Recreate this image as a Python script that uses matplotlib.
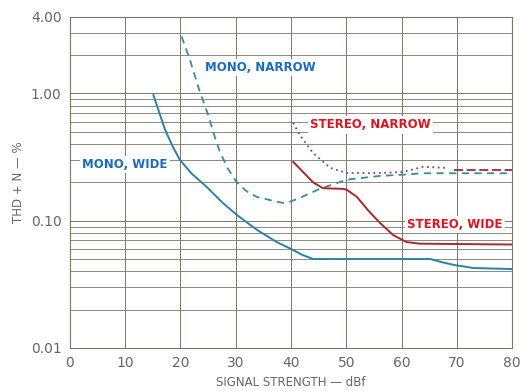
import matplotlib
matplotlib.use("Agg")
import matplotlib.pyplot as plt
from matplotlib.ticker import FixedLocator, NullFormatter

# ---- data (signal strength dBf, THD+N %) ----
mono_wide_x = [15.1, 16.2, 17.2, 18.5, 19.9, 22.0, 24.7, 27.5, 30.2, 33.8, 37.4, 40.0, 42.0, 44.0,
               50.0, 60.0, 65.2, 67.5, 69.4, 73.0, 80.0]
mono_wide_y = [0.97, 0.70, 0.52, 0.39, 0.30, 0.235, 0.185, 0.14, 0.111, 0.085, 0.068, 0.060, 0.054, 0.050,
               0.050, 0.050, 0.050, 0.047, 0.045, 0.0425, 0.0417]

mono_narrow_x = [20.2, 21.7, 23.5, 25.0, 26.2, 27.1, 28.5, 30.2, 32.0, 33.8, 37.4, 39.0, 41.6, 45.2, 50.1,
                 56.1, 60.3, 64.0, 70.0, 80.0]
mono_narrow_y = [2.8, 1.84, 1.03, 0.68, 0.456, 0.35, 0.26, 0.20, 0.17, 0.154, 0.141, 0.137, 0.151, 0.178, 0.21,
                 0.225, 0.23, 0.236, 0.236, 0.236]

stereo_narrow_x = [40.4, 41.6, 44.0, 47.1, 50.1, 56.1, 60.3, 63.9, 68.2]
stereo_narrow_y = [0.588, 0.47, 0.34, 0.26, 0.237, 0.237, 0.242, 0.265, 0.26]

stereo_narrow_ext_x = [69.5, 80.0]
stereo_narrow_ext_y = [0.25, 0.25]

stereo_wide_x = [40.4, 44.0, 45.8, 49.4, 50.1, 51.9, 54.0, 56.1, 58.5, 60.9, 63.3, 80.0]
stereo_wide_y = [0.29, 0.20, 0.18, 0.178, 0.175, 0.154, 0.12, 0.096, 0.077, 0.068, 0.066, 0.065]

x_ticks = [0, 10, 20, 30, 40, 50, 60, 70, 80]
y_ticks = [0.01, 0.10, 1.00, 4.00]
y_tick_labels = ["0.01", "0.10", "1.00", "4.00"]

fig = plt.figure(figsize=(5.22, 3.91), dpi=100)
ax = fig.add_axes([0.134, 0.110, 0.847, 0.847])

grid_col = "#77776a"
blue = "#2a82a8"
red = "#a8282c"
text_col = "#666666"

ax.set_xlim(0, 80)
ax.set_yscale("log")
ax.set_ylim(0.01, 4.0)

# grid
minor = [m * 10.0 ** e for e in (-2, -1, 0) for m in range(2, 10)]
minor = [v for v in minor if v < 4.0]
ax.yaxis.set_minor_locator(FixedLocator(minor))
ax.yaxis.set_minor_formatter(NullFormatter())
ax.set_yticks(y_ticks)
ax.set_yticklabels(y_tick_labels)
ax.set_xticks(x_ticks)
ax.grid(True, which="major", color=grid_col, lw=0.7)
ax.grid(True, which="minor", axis="y", color=grid_col, lw=0.6)
ax.tick_params(which="both", length=0, labelsize=10, colors=text_col, pad=6)
for s in ax.spines.values():
    s.set_color(grid_col)
    s.set_linewidth(0.8)

# curves
ax.plot(mono_wide_x, mono_wide_y, color=blue, lw=1.4)
ax.plot(mono_narrow_x, mono_narrow_y, color="#3a8c98", lw=1.3, ls=(0, (4, 3)))
ax.plot(stereo_narrow_x, stereo_narrow_y, color="#a0404c", lw=1.3, ls=(0, (1, 2)))
ax.plot(stereo_narrow_ext_x, stereo_narrow_ext_y, color=red, lw=1.3, ls=(0, (5, 2)))
ax.plot(stereo_wide_x, stereo_wide_y, color=red, lw=1.4)

# labels on the curves
lab = dict(fontsize=8.5, fontweight="bold", va="center", ha="left",
           bbox=dict(facecolor="white", edgecolor="none", pad=1.5))
ax.text(24.5, 1.59, "MONO, NARROW", color="#1a6cc0", **lab)
ax.text(2.2, 0.275, "MONO, WIDE", color="#1a6cc0", **lab)
ax.text(43.4, 0.566, "STEREO, NARROW", color="#e0141e", **lab)
ax.text(61.0, 0.093, "STEREO, WIDE", color="#e0141e", **lab)

ax.set_xlabel("SIGNAL STRENGTH \u2014 dBf", fontsize=8.5, color=text_col, labelpad=4)
ax.set_ylabel("THD + N \u2014 %", fontsize=8.5, color=text_col, labelpad=4)

fig.savefig("out.png", dpi=100)
